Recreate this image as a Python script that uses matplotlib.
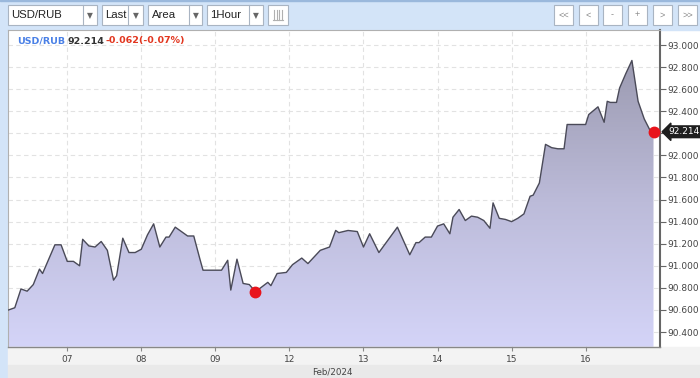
import numpy as np
import matplotlib.pyplot as plt
from matplotlib.patches import Rectangle
from matplotlib.colors import LinearSegmentedColormap
from matplotlib.ticker import FuncFormatter

# hourly USD/RUB quotes, hour 0 = 06 Feb 00:00, weekend removed
hours = [5, 7, 9, 11, 13, 15, 16, 20, 22, 24, 26, 28, 29, 31, 33, 35, 37, 39, 40, 42,
         44, 46, 48, 50, 52, 54, 56, 57, 59, 61, 63, 65, 67, 68, 74, 76, 77, 79, 81, 83,
         85, 89, 90, 92, 95, 97, 100, 102, 103, 106, 109, 111, 112, 115, 118, 120, 122, 125, 131, 135,
         137, 138, 140, 142, 144, 146, 148, 149, 151, 153, 155, 157, 159, 161, 162, 164, 166, 168, 170, 172,
         174, 175, 177, 179, 181, 183, 185, 186, 189, 192, 193, 196, 198, 199, 200, 202, 203, 205, 207, 209,
         210, 211, 213, 214]
prices = [90.60, 90.62, 90.79, 90.77, 90.83, 90.97, 90.93, 91.19, 91.19, 91.04, 91.04, 91.00, 91.24, 91.18, 91.17, 91.22, 91.14, 90.87, 90.91, 91.25,
          91.12, 91.12, 91.15, 91.28, 91.38, 91.17, 91.26, 91.26, 91.35, 91.31, 91.27, 91.27, 91.06, 90.96, 90.96, 91.05, 90.78, 91.06, 90.84, 90.83,
          90.765, 90.85, 90.82, 90.93, 90.94, 91.01, 91.07, 91.02, 91.05, 91.14, 91.17, 91.32, 91.30, 91.32, 91.31, 91.17, 91.29, 91.12, 91.35, 91.10,
          91.21, 91.21, 91.26, 91.26, 91.36, 91.38, 91.29, 91.44, 91.51, 91.41, 91.45, 91.44, 91.41, 91.34, 91.57, 91.43, 91.42, 91.40, 91.43, 91.47,
          91.63, 91.64, 91.75, 92.10, 92.07, 92.06, 92.06, 92.28, 92.28, 92.28, 92.37, 92.44, 92.30, 92.49, 92.48, 92.48, 92.61, 92.74, 92.86, 92.49,
          92.41, 92.33, 92.22, 92.214]

# hours that carry a red marker (session low and last quote)
marked_hours = [85, 214]

day_labels = ["07", "08", "09", "12", "13", "14", "15", "16"]
day_hours = [24, 48, 72, 96, 120, 144, 168, 192]
y_ticks = [90.4, 90.6, 90.8, 91.0, 91.2, 91.4, 91.6, 91.8, 92.0, 92.2, 92.4, 92.6, 92.8, 93.0]

symbol = "USD/RUB"
last = 92.214
change = "-0.062(-0.07%)"

W, H = 700, 378
fig = plt.figure(figsize=(7, 3.78), dpi=100)

# background / widget layer in pixel coordinates
bg = fig.add_axes([0, 0, 1, 1], zorder=0)
bg.set_xlim(0, W)
bg.set_ylim(H, 0)
bg.axis('off')
blue = '#d3e4f8'
bg.add_patch(Rectangle((0, 0), W, 30, color=blue))
bg.add_patch(Rectangle((0, 0), 7.5, H, color=blue))
bg.add_patch(Rectangle((0, 0), W, 1, color='#9ab8dc'))
bg.add_patch(Rectangle((7.5, 347), W, 18, color='#f3f3f3'))
bg.add_patch(Rectangle((7.5, 365), W, 13, color='#e9e9e9'))

# dropdowns
for x0, x1, sep, label in [(7.5, 97, 83, "USD/RUB"), (102, 143, 128, "Last"),
                           (148, 202, 189, "Area"), (207, 263, 249, "1Hour")]:
    bg.add_patch(Rectangle((x0, 5), x1 - x0, 20, fc='white', ec='#a9b4c2', lw=0.8))
    bg.plot([sep, sep], [5, 25], color='#a9b4c2', lw=0.8)
    bg.text(x0 + 3.5, 15.5, label, fontsize=8.2, family='Liberation Sans',
            color='#222222', va='center', ha='left')
    bg.text((sep + x1) / 2, 15.5, "▼", fontsize=5.5, color='#666666',
            va='center', ha='center')
bg.add_patch(Rectangle((268, 5), 20, 20, fc='white', ec='#a9b4c2', lw=0.8))
for xi in [274, 276.5, 279, 281.5]:
    bg.plot([xi, xi], [10, 20], color='#b0b0b0', lw=0.8)
bg.plot([273, 283], [20, 20], color='#b0b0b0', lw=0.8)

# navigation buttons
for x0, label in [(554, "<<"), (579, "<"), (603, "-"), (628, "+"), (653, ">"), (678, ">>")]:
    bg.add_patch(Rectangle((x0, 5), 19, 20, fc='white', ec='#a9b4c2', lw=0.8))
    bg.text(x0 + 9.5, 15, label, fontsize=6.5, color='#888888',
            va='center', ha='center', family='Liberation Sans')

bg.text(332.5, 372, "Feb/2024", fontsize=6.3, color='#444444', ha='center', va='center')

# main chart
ax = fig.add_axes([8 / W, 1 - 346.7 / H, (660 - 8) / W, (346.7 - 30) / H], zorder=1)
ax.set_facecolor('white')
x_lo, x_hi = 4.8, 216.1
y_lo, y_hi = 90.267, 93.136

poly = ax.fill_between(hours, prices, y_lo, color='none', lw=0)
cmap = LinearSegmentedColormap.from_list('area', ['#9b9ab0', '#bcbbd9', '#d4d4f8'])
grad = np.linspace(0, 1, 256).reshape(-1, 1)
im = ax.imshow(grad, aspect='auto', cmap=cmap, extent=[x_lo, x_hi, y_lo, 92.9],
               origin='upper', zorder=1, interpolation='bilinear')
im.set_clip_path(poly.get_paths()[0], transform=ax.transData)
ax.plot(hours, prices, color='#4a4a58', lw=1.0, zorder=3)

mark_y = [prices[hours.index(h)] for h in marked_hours]
ax.plot(marked_hours, mark_y, 'o', color='#e8141c', ms=7.5, zorder=4, clip_on=False)

ax.set_xlim(x_lo, x_hi)
ax.set_ylim(y_lo, y_hi)
ax.set_xticks(day_hours)
ax.set_xticklabels(day_labels)
ax.yaxis.tick_right()
ax.set_yticks(y_ticks)
ax.yaxis.set_major_formatter(FuncFormatter(lambda v, p: "" if abs(v - 92.2) < 1e-6 else f"{v:.3f}"))
ax.tick_params(axis='y', direction='out', length=4, width=0.8, color='#666666',
               labelsize=6.5, labelcolor='#444444', pad=1)
ax.tick_params(axis='x', direction='out', length=3, width=0.8, color='#888888',
               labelsize=6.5, labelcolor='#444444', pad=3)
ax.grid(True, color='#e2e2e2', ls=(0, (4, 3)), lw=0.8, zorder=0)
ax.set_axisbelow(True)
for side in ['left', 'top']:
    ax.spines[side].set_color('#b0b0b0')
    ax.spines[side].set_linewidth(0.8)
ax.spines['bottom'].set_color('#888888')
ax.spines['bottom'].set_linewidth(1.0)
ax.spines['right'].set_color('#666666')
ax.spines['right'].set_linewidth(1.5)

ax.annotate(f"{last:.3f}", xy=(1.0, last), xycoords=('axes fraction', 'data'),
            xytext=(6, 0), textcoords='offset points', fontsize=6.5, color='white',
            va='center', ha='left', zorder=6, annotation_clip=False,
            bbox=dict(boxstyle='larrow,pad=0.15', fc='#1e1e1e', ec='#1e1e1e'))

# header inside chart (figure-level so it sits above the chart axes)
hy = 1 - 41 / H
fig.text(17.3 / W, hy, symbol, fontsize=6.8, fontweight='bold', color='#4a80e6',
         va='center', ha='left', zorder=5)
fig.text(67.3 / W, hy, f"{last:.3f}", fontsize=6.8, fontweight='bold', color='#333333',
         va='center', ha='left', zorder=5)
fig.text(105 / W, hy, change, fontsize=6.8, fontweight='bold', color='#e2361f',
         va='center', ha='left', zorder=5)

fig.savefig("out.png", dpi=100)
